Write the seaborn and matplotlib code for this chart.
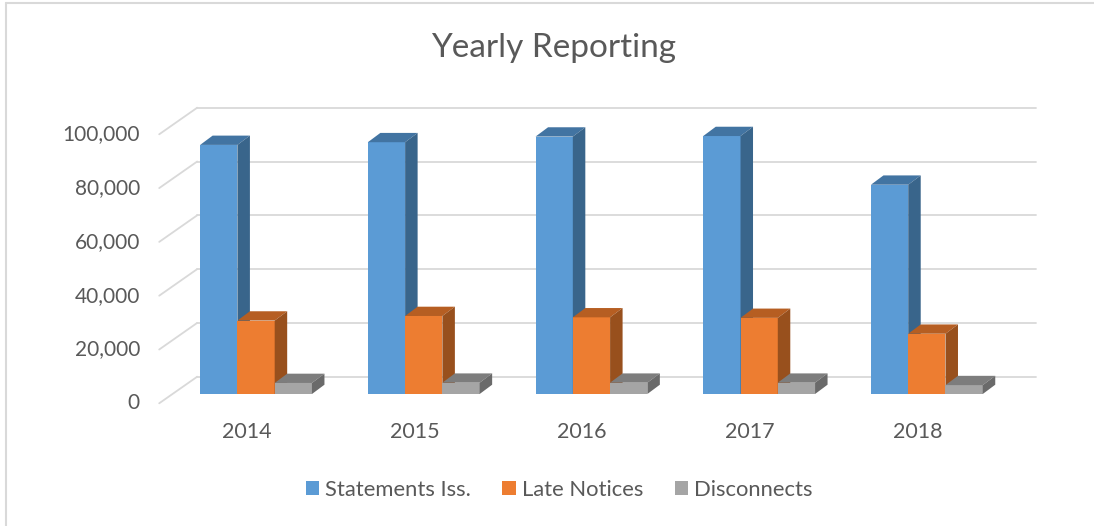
import matplotlib
matplotlib.use("Agg")
import matplotlib.pyplot as plt
import matplotlib.transforms as mtransforms
from matplotlib.patches import Polygon, Rectangle
from matplotlib.lines import Line2D
import seaborn as sns
import pandas as pd

# ---- data -------------------------------------------------------------
years = ["2014", "2015", "2016", "2017", "2018"]
series_names = ["Statements Iss.", "Late Notices", "Disconnects"]
statements = [92600, 93600, 95700, 95900, 77800]
late_notices = [27300, 29000, 28500, 28300, 22400]
disconnects = [4100, 4200, 4200, 4200, 3300]
y_ticks = [0, 20000, 40000, 60000, 80000, 100000]

# ---- styling ----------------------------------------------------------
front_colors = ["#5B9BD5", "#ED7D31", "#A5A5A5"]
top_colors = ["#4274A2", "#B65E22", "#7D7D7D"]
side_colors = ["#39658B", "#98501D", "#6A6A6A"]
grid_color = "#D9D9D9"
text_color = "#595959"

df = pd.DataFrame({
    "Year": years * 3,
    "Series": [n for n in series_names for _ in years],
    "Count": statements + late_notices + disconnects,
})

sns.set_theme(style="white")
plt.rcParams["font.family"] = ["Lato", "DejaVu Sans"]

W, H, DPI = 1094, 526, 100
fig = plt.figure(figsize=(W / DPI, H / DPI), dpi=DPI)
fig.patch.set_facecolor("white")

# bar front plane: x in category units, y in counts
ax = fig.add_axes([172.2 / W, 132 / H, 838.5 / W, 269 / H])
sns.barplot(data=df, x="Year", y="Count", hue="Series", hue_order=series_names,
            palette=front_colors, width=2 / 3, saturation=1, linewidth=0,
            errorbar=None, legend=False, ax=ax)
ax.set_xlim(-0.5, 4.5)
ax.set_ylim(0, 100000)
ax.axis("off")

px = mtransforms.IdentityTransform()
to_px = ax.transData.transform

# pixel offsets of the depth planes relative to the bar front plane
BACK = (25.0, 17.3)
FRONT = (-13.0, -9.3)
DEPTH = (12.5, 9.3)

# back wall gridlines and slanted side-wall lines
for v in y_ticks:
    lx, ly = to_px((-0.5, v))
    rx, ry = to_px((4.5, v))
    ax.add_line(Line2D([lx + BACK[0], rx + BACK[0]], [ly + BACK[1], ry + BACK[1]],
                       transform=px, color=grid_color, lw=1.3, zorder=0.5, clip_on=False))
    ax.add_line(Line2D([lx + FRONT[0], lx + BACK[0]], [ly + FRONT[1], ly + BACK[1]],
                       transform=px, color=grid_color, lw=1.3, zorder=0.5, clip_on=False))
    ax.text(140, ly + FRONT[1], f"{v:,}", transform=px, ha="right", va="center",
            fontsize=15, color=text_color)

# top and side faces for each bar
for k, container in enumerate(ax.containers):
    for bar in container:
        bar.set_zorder(2 + k)
        bar.set_clip_on(False)
        x0, y0 = bar.get_x(), bar.get_y()
        x1, y1 = x0 + bar.get_width(), y0 + bar.get_height()
        ax0, ay0 = to_px((x0, y0))
        ax1, ay1 = to_px((x1, y1))
        dx, dy = DEPTH
        top = Polygon([(ax0, ay1), (ax1, ay1), (ax1 + dx, ay1 + dy), (ax0 + dx, ay1 + dy)],
                      closed=True, transform=px, facecolor=top_colors[k],
                      edgecolor="none", zorder=2 + k, clip_on=False)
        side = Polygon([(ax1, ay0), (ax1, ay1), (ax1 + dx, ay1 + dy), (ax1 + dx, ay0 + dy)],
                       closed=True, transform=px, facecolor=side_colors[k],
                       edgecolor="none", zorder=2 + k, clip_on=False)
        ax.add_patch(top)
        ax.add_patch(side)

# category labels
for i, yr in enumerate(years):
    cx, cy = to_px((i, 0))
    ax.text(cx - 9.3, cy - 37.7, yr, transform=px, ha="center", va="center",
            fontsize=15.5, color=text_color)

fig.text(554 / W, 1 - 48 / H, "Yearly Reporting", ha="center", va="center",
         fontsize=24, color=text_color)

handles = [Rectangle((0, 0), 1, 1, facecolor=c, edgecolor="none") for c in front_colors]
fig.legend(handles, series_names, loc="center", bbox_to_anchor=(559 / W, 1 - 490 / H),
           ncol=3, frameon=False, fontsize=15.8, handlelength=0.6, handleheight=0.6,
           handletextpad=0.27, columnspacing=1.45, labelcolor=text_color)

# chart area border
fig.add_artist(Line2D([5.5, 5.5], [0, H - 3], transform=px, color=grid_color, lw=1.5))
fig.add_artist(Line2D([5.5, W], [H - 3, H - 3], transform=px, color=grid_color, lw=1.5))

fig.savefig("out.png", dpi=DPI, facecolor="white")
